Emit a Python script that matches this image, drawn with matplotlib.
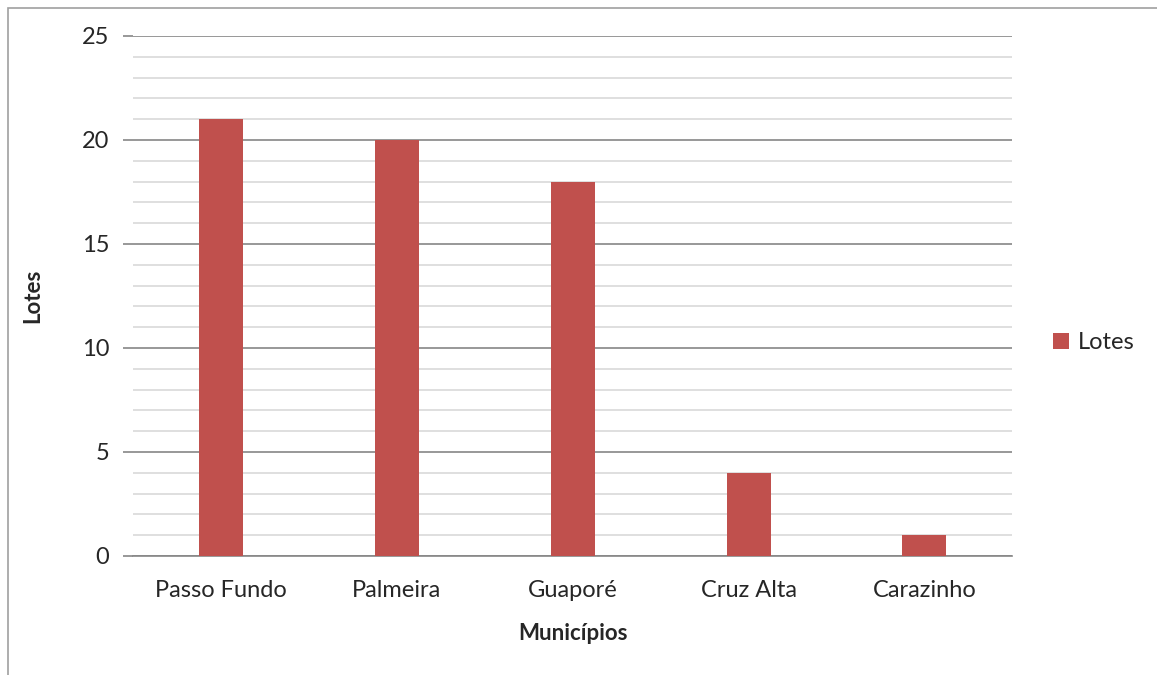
import matplotlib
matplotlib.use('Agg')
import matplotlib.pyplot as plt
from matplotlib.patches import Rectangle

# --- data ---
municipios = ['Passo Fundo', 'Palmeira', 'Guaporé', 'Cruz Alta', 'Carazinho']
lotes = [21, 20, 18, 4, 1]

plt.rcParams['font.family'] = ['Lato', 'DejaVu Sans']

fig = plt.figure(figsize=(11.57, 6.75), dpi=100)
ax = fig.add_axes([0.115, 0.1763, 0.76, 0.7704])

# chart frame (Excel style border, partly cut off)
fig.patches.append(Rectangle((8 / 1157, -0.05), 1.1, 0.05 + 1 - 8 / 675,
                             transform=fig.transFigure, fill=False,
                             edgecolor='#A0A0A0', linewidth=1.2))

x = range(len(municipios))
ax.bar(x, lotes, width=0.25, color='#C0504D', label='Lotes', zorder=3)

ax.set_xlim(-0.5, len(municipios) - 0.5)
ax.set_ylim(0, 25)
ax.set_yticks(range(0, 26, 5))
ax.set_yticks(range(0, 26, 1), minor=True)
ax.grid(axis='y', which='major', color='#868686', linewidth=1.2, zorder=0)
ax.grid(axis='y', which='minor', color='#D9D9D9', linewidth=1.2, zorder=0)

for s in ['top', 'right', 'left']:
    ax.spines[s].set_visible(False)
ax.spines['bottom'].set_color('#868686')
ax.spines['bottom'].set_linewidth(1.2)

ax.set_xticks(list(x))
ax.set_xticklabels(municipios)
ax.tick_params(axis='x', length=0, pad=17, labelsize=17, colors='#262626')
ax.tick_params(axis='y', which='major', length=7, width=1.2, color='#868686',
               labelsize=17, labelcolor='#262626', pad=10)
ax.tick_params(axis='y', which='minor', length=0)

ax.set_xlabel('Municípios', fontsize=16, fontweight='bold', color='#262626', labelpad=16)
ax.set_ylabel('Lotes', fontsize=16, fontweight='bold', color='#262626', labelpad=28)

ax.legend(loc='center left', bbox_to_anchor=(1.022, 0.41), frameon=False,
          fontsize=17, handlelength=0.7, handleheight=0.7, handletextpad=0.35,
          labelcolor='#262626')

fig.savefig('out.png', dpi=100, facecolor='white')
